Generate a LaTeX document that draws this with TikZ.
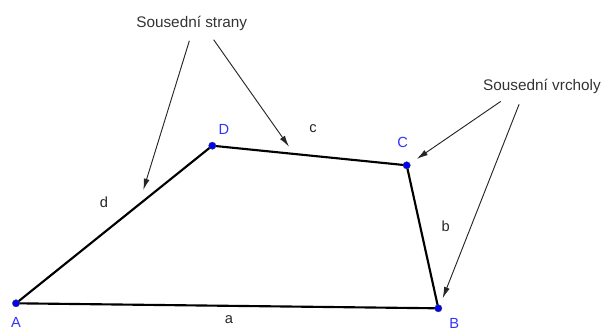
\documentclass[tikz,border=0pt]{standalone}
\usepackage{fontspec}
\setmainfont{Liberation Sans}
\usepackage{tikz}
\usetikzlibrary{positioning,arrows.meta}
\definecolor{ptblue}{rgb}{0.0,0.0,1.0}
\definecolor{lblblue}{rgb}{0.2,0.2,1.0}

\begin{document}
\begin{tikzpicture}[
  x=0.75pt, y=-0.75pt,
  vertex/.style={circle, fill=ptblue, draw=black!70, line width=0.3pt, inner sep=0pt, minimum size=5.5pt},
  vlabel/.style={inner sep=1pt, font=\fontsize{11}{13}\selectfont, text=lblblue},
  slabel/.style={inner sep=1pt, font=\fontsize{11}{13}\selectfont, text=black!85},
  note/.style={inner sep=2pt, font=\fontsize{11.5}{13}\selectfont, text=black!80},
  side/.style={draw=black, line width=1.6pt},
  arr/.style={-{Latex[length=8.5pt,width=4.5pt]}, draw=black!85, line width=0.7pt, shorten <=6pt},
]
\useasboundingbox (0,0) rectangle (605,331);

% --- Quadrilateral ---
\coordinate (pA) at (16,303.3);
\coordinate (pB) at (438.3,308.3);
\coordinate (pC) at (406.7,165.3);
\coordinate (pD) at (212.3,145.7);
\draw[side] (pA) -- (pB) -- (pC) -- (pD) -- cycle;

\node[vertex] (A) at (pA) {};
\node[vertex] (B) at (pB) {};
\node[vertex] (C) at (pC) {};
\node[vertex] (D) at (pD) {};

% --- Vertex labels ---
\node[vlabel, below=6.5pt of A] (lA) {A};
\node[vlabel, below right=4pt and 5pt of B] (lB) {B};
\node[vlabel, above=9pt of C, xshift=-3pt] (lC) {C};
\node[vlabel, above right=5pt and 1.5pt of D] (lD) {D};

% --- Side labels ---
\node[slabel] (la) at (229,320) {a};
\node[slabel] (lb) at (445.7,226.7) {b};
\node[slabel] (lc) at (313,129) {c};
\node[slabel] (ld) at (104,202) {d};

% --- Callouts ---
\node[note] (strany) at (191.7,23) {Sousední strany};
\node[note] (vrcholy) at (542,86.7) {Sousední vrcholy};

\coordinate (td) at (143.3,190);
\coordinate (tc) at (289,146.7);
\coordinate (tC) at (416.7,159);
\coordinate (tB) at (442.7,298.3);

\draw[arr] (strany.south) -- (td);
\draw[arr] ([xshift=13pt]strany.south) -- (tc);
\draw[arr] ([xshift=-26pt]vrcholy.south) -- (tC);
\draw[arr] ([xshift=-15pt]vrcholy.south) -- (tB);
\end{tikzpicture}
\end{document}
